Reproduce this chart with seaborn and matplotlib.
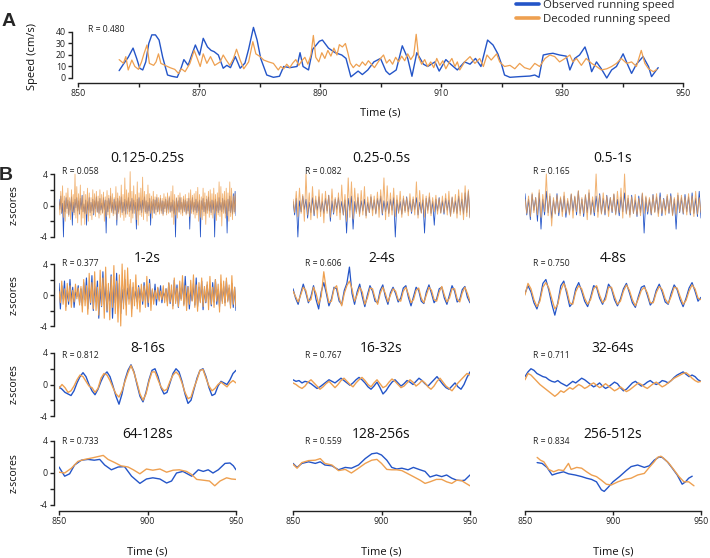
import numpy as np
import matplotlib
matplotlib.use("Agg")
import matplotlib.pyplot as plt
from matplotlib.lines import Line2D
import seaborn as sns

sns.set_theme(style="ticks")
plt.rcParams['font.family'] = ['Open Sans', 'DejaVu Sans']

BLUE = "#2455c8"
ORANGE = "#eea050"

# ---------------- Panel A data ----------------
A_obs_t = [856.8, 857.5, 858.3, 859.1, 859.7, 860.2, 860.7, 861.2, 861.7, 862.2, 862.8, 863.4, 864.0, 864.8,
           865.5, 866.4, 867.0, 867.5, 868.2, 868.8, 869.4, 870.1, 870.7, 871.4, 872.0, 872.5, 873.2, 874.0,
           874.6, 875.2, 876.0, 876.8, 877.6, 878.2, 879.0, 879.6, 880.2, 881.2, 882.3, 883.3, 884.0, 885.0,
           886.2, 886.7, 887.2, 888.1, 888.8, 889.9, 890.4, 891.4, 892.5, 893.6, 894.3, 895.1, 896.3, 897.0,
           897.9, 898.9, 900.0, 900.9, 901.5, 902.6, 903.6, 904.5, 905.2, 906.0, 907.1, 907.8, 909.0, 909.7,
           910.8, 911.6, 912.7, 913.9, 914.8, 915.7, 916.6, 917.7, 918.6, 919.4, 920.0, 920.5, 921.4, 923.0,
           924.7, 925.5, 926.2, 926.9, 927.7, 928.5, 929.6, 930.7, 931.3, 932.1, 932.9, 933.8, 934.3, 934.9,
           935.7, 936.5, 937.4, 938.2, 939.0, 940.1, 940.9, 941.5, 942.3, 943.4, 944.3, 944.8, 945.4, 945.9]
A_obs_v = [6.4, 12, 18, 26, 17, 8.5, 7, 14, 30, 37.5, 37.5, 33, 18, 2.6,
           1.5, 0.6, 8, 16, 11, 20, 28.7, 20, 34.5, 27, 24, 22.9, 20, 8.5,
           11, 9, 18.6, 8.5, 13, 25, 44, 33, 17, 2.6, 0.6, 1.5, 10, 9,
           10, 22, 10, 7, 25, 32, 33, 26, 22, 20, 17, 1, 6, 3,
           7, 14, 17, 6, 3, 7, 28, 17, 1.5, 22, 12, 10, 14, 6,
           16, 12, 7, 14, 12, 17, 10, 33, 28.7, 21, 12, 2.6, 0.6, 1.2,
           1.7, 2.6, 0.6, 20, 20.9, 21.5, 20, 19, 7, 17, 20, 27, 19, 5.5,
           14, 8, 0, 7, 10, 21, 11, 4, 12, 18.6, 10, 1.2, 5.5, 9]

A_dec_t = [856.8, 857.5, 857.9, 858.3, 858.9, 859.4, 860.0, 860.5, 860.9, 861.4, 861.8, 862.5, 862.9, 863.3,
           863.7, 864.4, 865.2, 866.0, 866.6, 867.1, 867.7, 868.5, 869.2, 869.6, 870.2, 870.7, 871.3, 871.9,
           872.6, 873.5, 874.0, 874.5, 875.1, 875.7, 876.2, 876.8, 877.4, 878.2, 878.9, 879.4, 880.1, 880.7,
           881.5, 882.3, 883.1, 883.5, 884.0, 884.5, 885.0, 885.5, 886.0, 886.5, 887.0, 887.5, 888.0, 888.5,
           888.9, 889.3, 889.8, 890.3, 890.8, 891.3, 891.8, 892.3, 892.8, 893.2, 893.7, 894.2, 894.6, 895.0,
           895.5, 896.0, 896.5, 897.0, 897.5, 898.0, 898.5, 899.0, 899.5, 900.0, 900.5, 901.0, 901.5, 902.0,
           902.5, 903.0, 903.5, 904.0, 904.5, 905.0, 905.5, 905.9, 906.3, 906.8, 907.3, 907.8, 908.3, 908.8,
           909.3, 909.8, 910.3, 910.8, 911.3, 911.8, 912.3, 912.7, 913.1, 913.9, 914.8, 915.6, 916.4, 917.0,
           917.6, 918.3, 919.2, 919.7, 920.5, 921.4, 922.2, 923.0, 923.8, 924.7, 925.5, 926.3, 927.2, 928.0,
           928.8, 929.6, 930.5, 931.3, 931.8, 932.4, 933.2, 934.0, 934.9, 935.7, 936.5, 937.4, 938.2, 939.0,
           939.8, 940.7, 941.5, 942.3, 943.1, 943.7, 944.3, 945.1, 945.7]
A_dec_v = [16, 12.8, 18.6, 7, 15.6, 10, 7.5, 14, 21, 28.7, 12.7, 11, 14, 21,
           12.7, 11, 9, 7.5, 4, 8, 5.5, 12.7, 24, 18.6, 10, 21, 12.7, 18.6,
           11, 14, 20, 15.6, 11, 17, 25, 15.6, 8, 14, 31.6, 21, 18.6, 15.6,
           14, 12.7, 7, 10, 8, 12, 9, 13, 16, 11, 15, 18, 12, 20,
           37, 18, 14, 22, 17, 24, 19, 26, 20, 29, 27, 30, 22, 13,
           9, 12, 10, 14, 11, 15, 12, 9, 13, 17, 20, 13, 16, 12,
           18, 14, 19, 15, 21, 16, 20, 38, 18, 12, 16, 10, 14, 9,
           17, 11, 15, 8, 13, 17, 10, 14, 7, 14, 18.6, 12.7, 17, 10,
           20, 15.6, 21, 14, 10, 11, 8, 12.7, 9, 7.5, 12.7, 10, 17, 20,
           18.6, 14, 17, 20, 14, 17, 11, 17, 12.7, 10, 7, 8, 10, 12.7,
           17, 12.7, 14, 10, 24, 12.7, 8, 5.5, 7.5]
A_R = "R = 0.480"

# ---------------- Panel B data ----------------
titles = [["0.125-0.25s", "0.25-0.5s", "0.5-1s"],
          ["1-2s", "2-4s", "4-8s"],
          ["8-16s", "16-32s", "32-64s"],
          ["64-128s", "128-256s", "256-512s"]]
r_labels = [["R = 0.058", "R = 0.082", "R = 0.165"],
            ["R = 0.377", "R = 0.606", "R = 0.750"],
            ["R = 0.812", "R = 0.767", "R = 0.711"],
            ["R = 0.733", "R = 0.559", "R = 0.834"]]

b11 = [0.8,-0.5,1.2,-1.0,0.3,-4.0,0.6,-0.8,1.0,-0.4, 0.7,-1.2,0.5,-0.6,1.1,-2.5,0.4,-0.9,0.8,-0.3,
       1.0,-0.7,0.6,-1.1,0.9,-0.5,1.3,-0.8,0.2,-1.0, 0.7,-2.5,0.5,-0.6,1.0,-0.9,0.4,-0.7,0.8,-1.2,
       0.6,-0.4,1.1,-0.8,0.5,-1.0,0.9,-0.6,0.3,-0.9, 1.0,-0.5,0.7,-3.5,0.6,-0.8,0.9,-0.4,1.2,-0.7,
       0.4,-1.0,0.8,-0.6,0.5,-2.5,0.9,-0.8,0.6,-0.5, 1.1,-0.9,0.4,-0.7,0.8,-1.1,0.6,-0.4,1.0,-0.8,
       0.5,-0.6,0.9,-1.0,0.7,-0.5,0.4,-3.0,0.8,-0.7, 1.0,-0.6,0.5,-0.9,0.7,-0.4,1.1,-0.8,0.6,-1.0,
       0.4,-0.7,0.9,-2.5,0.5,-0.6,0.8,-1.0,0.7,-0.5, 1.0,-0.8,0.4,-0.6,0.9,-0.7,0.6,-1.1,0.5,-0.4,
       0.8,-0.9,0.6,-0.5,1.0,-0.8,0.4,-0.7,0.7,-1.0, 0.5,-4.0,0.9,-0.6,0.6,-0.8,1.0,-0.5,0.4,-0.9,
       0.8,-0.6,0.7,-1.0,0.5,-0.7,0.9,-3.0,0.6,-0.5, 1.0,-0.8,0.4,-0.6,0.8,-0.9,0.5,-0.7,0.7,-4.0,
       0.6,-0.5,0.9,-0.8,0.4,-1.0,0.8,-0.6,1.1,-0.7, 0.5,-0.9,0.7,-0.5,0.6,-4.0,0.8,-0.7,0.5,-0.9,
       1.0,-0.6,0.4,-0.8,0.9,-0.5,0.7,-1.0,0.6,-3.5, 0.8,-0.7,1.2,-0.9,0.6,-1.1,1.5,-0.8,1.8,-1.3]
o11 = [0.5,-1.2,1.8,-0.9,2.5,-1.5,1.2,-2.0,1.6,-1.0, 2.2,-1.4,1.0,-1.8,2.0,-0.8,1.4,-1.2,4.0,-1.6,
       2.4,-2.2,1.5,-1.0,2.6,-2.5,1.2,-1.6,1.8,-2.4, 1.4,-1.1,2.2,-2.0,1.6,-1.3,1.0,-1.8,2.0,-1.0,
       1.5,-1.4,1.8,-0.9,1.2,-1.6,2.0,-1.2,1.4,-1.0, 1.7,-2.0,1.1,-1.4,1.9,-1.2,1.3,-1.6,2.2,-0.9,
       1.5,-1.3,1.0,-1.1,2.4,-1.8,1.6,-1.0,1.2,-1.5, 2.6,-1.2,1.4,-1.9,3.5,-1.5,2.0,-1.1,1.6,-1.4,
       4.3,-2.2,1.8,-1.6,2.5,-1.0,1.4,-1.8,3.0,-2.5, 1.6,-1.2,2.2,-1.4,3.6,-1.8,1.8,-1.0,1.4,-2.0,
       2.6,-1.3,1.5,-1.0,1.2,-1.6,1.8,-0.9,1.1,-1.2, 1.4,-0.8,1.0,-1.1,1.3,-1.0,0.9,-1.3,1.5,-0.8,
       1.1,-1.2,1.6,-1.0,1.2,-0.9,1.8,-1.5,2.5,-2.4, 1.4,-1.2,1.0,-1.6,1.3,-0.9,1.6,-1.1,1.0,-1.3,
       1.2,-0.8,1.4,-1.2,0.9,-1.0,1.6,-1.4,2.0,-1.0, 1.3,-1.1,1.5,-1.6,1.8,-1.2,2.3,-2.0,1.4,-1.5,
       1.1,-1.8,2.2,-1.3,1.6,-2.4,1.2,-1.0,1.8,-1.5, 2.0,-1.2,1.5,-1.6,2.2,-1.0,1.4,-1.9,1.6,-1.2,
       3.0,-1.4,2.4,-2.6,1.5,-1.0,1.8,-1.6,2.2,-1.3, 1.6,-2.0,3.0,-1.4,2.2,-1.8,1.2,-1.0,1.5,-0.8]

b12 = [0.5,-1.2,0.9,-4.0,0.6,-0.8,1.2,-0.5,0.8,-1.6, 0.4,-0.9,1.0,-1.3,0.7,-0.6,1.1,-0.8,0.5,-1.0,
       0.9,-0.7,1.3,-2.0,0.6,-1.1,0.8,-0.5,1.0,-0.9, 0.5,-1.2,0.7,-3.5,0.9,-0.6,1.2,-3.0,0.5,-0.8,
       1.0,-1.1,0.6,-0.7,0.8,-1.3,0.4,-0.9,1.1,-0.6, 0.7,-1.0,0.9,-0.5,1.2,-1.2,0.6,-0.8,0.5,-1.0,
       0.8,-0.6,1.0,-4.0,0.7,-0.9,0.5,-1.1,0.9,-0.7, 1.1,-0.8,0.6,-1.0,0.8,-0.5,1.0,-1.2,0.4,-0.9,
       0.7,-3.5,0.9,-0.6,1.1,-1.0,0.5,-2.5,0.8,-0.7, 1.0,-0.9,0.6,-1.1,0.9,-0.6,0.7,-1.3,1.0,-0.8,
       0.6,-1.0,1.2,-0.7,0.8,-1.1,1.6,-0.9,1.8,-1.5]
o12 = [0.8,-0.9,1.8,-1.4,2.2,-1.0,1.4,-2.0,4.0,-1.2, 1.6,-1.8,2.4,-1.1,1.2,-1.6,2.0,-1.4,1.5,-2.2,
       1.8,-1.0,1.3,-1.5,2.1,-0.9,1.0,-1.3,1.6,-1.8, 2.6,-1.2,1.4,-2.0,3.5,-1.5,3.0,-1.7,2.2,-1.0,
       1.5,-1.4,1.9,-1.2,2.4,-1.6,1.1,-0.9,1.4,-1.3, 1.2,-1.1,1.7,-1.5,2.0,-1.0,3.5,-1.8,2.5,-1.4,
       1.6,-1.2,2.2,-1.4,1.3,-1.0,1.8,-1.5,1.2,-0.9, 1.0,-1.3,1.5,-0.8,1.1,-1.2,3.0,-1.6,1.9,-1.0,
       1.4,-1.5,1.2,-1.0,1.6,-1.3,1.0,-0.8,1.3,-1.1, 0.9,-1.0,1.2,-0.9,1.5,-1.2,1.8,-1.4,1.1,-1.0,
       1.4,-1.6,2.0,-1.2,1.6,-1.8,2.5,-1.4,2.0,-1.6]

b13 = [1.5,-1.2,0.8,-1.8,1.4,-0.6,1.0,-2.0,1.6,-3.0, 0.8,-1.2,1.8,-0.9,1.2,-1.6,0.7,-1.0,1.5,-1.3,
       0.9,-0.8,1.2,-1.5,0.6,-1.0,1.4,-0.7,1.1,-1.2, 1.8,-1.0,0.8,-1.4,1.3,-0.9,1.6,-1.1,0.7,-1.3,
       1.2,-0.8,1.5,-1.0,0.9,-1.2,1.3,-0.7,1.0,-0.9, 1.4,-1.1,0.8,-1.3,1.1,-0.8,1.6,-1.0,0.9,-1.2,
       1.3,-1.0,0.7,-1.4,1.2,-0.9,1.5,-3.5,1.0,-1.1, 0.8,-1.2,1.4,-0.8,1.1,-1.0,1.6,-1.3,0.9,-0.7,
       1.2,-1.0,1.5,-1.2,0.8,-3.0,1.3,-0.9,1.0,-1.1, 1.4,-0.8,1.1,-1.2,1.6,-1.0,0.9,-1.4,1.8,-1.6]
o13 = [0.8,-1.0,1.2,-1.4,1.6,-0.9,1.0,-1.2,2.0,-1.5, 1.4,-0.8,4.0,-1.3,1.5,-2.6,1.0,-1.1,1.3,-0.9,
       1.1,-1.4,1.7,-1.0,0.9,-1.2,1.5,-1.6,1.2,-0.8, 1.9,-1.3,1.0,-1.0,1.4,-1.8,2.0,-1.2,1.1,-0.9,
       4.0,-1.5,1.3,-1.1,1.6,-1.0,1.2,-1.4,1.0,-0.8, 1.5,-1.2,1.8,-0.9,2.2,-1.6,4.0,-1.1,1.3,-1.5,
       1.1,-1.0,1.4,-1.2,0.9,-1.3,1.6,-1.0,1.2,-0.8, 1.0,-1.1,1.3,-0.9,1.5,-1.4,1.1,-1.0,0.8,-1.2,
       1.4,-0.9,1.2,-1.3,1.0,-1.1,1.6,-0.8,1.3,-1.0, 1.1,-1.2,1.5,-1.0,1.2,-1.4,1.8,-1.1,1.0,-0.9]

b21 = [1.5,-1.8,1.2,-0.5,1.8,-1.5,0.6,-1.2,2.0,-0.8, 1.0,-1.6,0.4,-0.2,1.2,-1.0,0.8,-1.4,1.6,-0.6,
       2.2,-1.8,0.9,-1.2,2.5,-2.0,1.1,-0.9,1.8,-3.0, 0.8,-1.5,3.0,-1.2,1.4,-2.2,0.6,-0.8,2.6,-3.0,
       1.2,-1.0,2.8,-1.6,1.5,-2.4,0.7,-1.1,2.0,-1.3, 0.9,-0.5,1.4,-1.8,1.0,-0.6,0.5,-0.9,1.2,-0.4,
       0.8,-1.2,1.6,-0.7,1.1,-1.5,2.0,-1.0,0.6,-0.8, 1.4,-1.3,0.9,-0.6,1.2,-1.0,0.4,-0.3,0.8,-0.9,
       1.5,-1.1,0.7,-1.4,1.9,-0.8,1.3,-1.6,0.9,-0.5, 1.7,-1.2,2.4,-1.0,1.1,-1.8,0.6,-0.7,1.5,-1.3,
       2.2,-1.5,1.0,-0.8,1.8,-1.9,0.8,-1.0,1.3,-0.6, 0.9,-1.4,1.6,-0.9,2.0,-1.2,0.7,-1.5,1.4,-0.8,
       1.1,-1.0,1.8,-0.7,0.9,-1.3,1.5,-1.6,1.0,-2.0]
o21 = [0.5,-1.0,1.8,-1.2,0.8,-2.0,1.5,-0.8,1.2,-1.6, 0.6,-0.9,1.4,-0.5,0.9,-1.3,1.1,-2.2,2.0,-1.4,
       1.2,-2.5,2.8,-1.0,1.6,-1.8,3.0,-2.0,1.0,-2.6, 3.2,-1.4,2.2,-3.0,3.6,-2.0,1.5,-3.2,2.4,-1.6,
       3.8,-2.4,1.8,-3.5,2.6,-4.0,4.0,-1.8,3.2,-2.6, 3.5,-1.2,2.0,-2.8,1.6,-1.4,2.6,-1.8,1.0,-2.2,
       1.4,-0.8,1.2,-1.6,2.4,-1.0,1.5,-2.0,0.8,-1.2, 0.6,-0.5,1.0,-0.8,0.5,-0.6,1.2,-1.0,0.8,-1.4,
       1.6,-0.9,1.3,-1.8,2.2,-1.1,0.9,-1.5,1.8,-0.7, 2.5,-1.4,1.2,-2.0,1.0,-1.2,1.9,-0.8,2.6,-1.6,
       1.3,-2.1,1.6,-1.0,2.2,-1.5,1.1,-0.9,1.7,-1.9, 2.4,-1.2,1.0,-1.6,2.0,-0.8,1.4,-2.2,2.6,-1.1,
       1.8,-1.4,2.2,-0.9,1.3,-1.7,2.5,-1.2,1.0,-1.5]

b22 = [0.8,-0.4,-1.2,0.2,1.4,0.3,-1.0,-0.2,1.2,-0.6, -1.8,0.4,1.6,0.2,-1.4,-0.5,1.0,0.8,-0.8,-1.2,
       0.6,1.5,3.6,0.2,-1.2,0.4,1.4,-0.2,-1.5,0.0, 1.2,0.5,-0.8,-1.0,0.6,1.3,-0.2,-1.2,0.3,1.0,
       0.2,-0.9,-0.4,0.9,1.2,-0.3,-1.4,-0.2,1.0,0.6, -0.8,-1.1,0.4,1.3,0.2,-1.0,-0.5,0.8,1.0,-0.4,
       -1.2,0.0,1.2,0.5,-0.9,-0.6,0.7,1.1,-0.3,-1.0]
o22 = [0.5,-0.2,-0.9,0.0,1.0,0.6,-0.8,-0.6,1.0,0.2, -1.2,-0.2,3.0,0.6,-1.0,-0.8,0.8,1.2,-0.4,-1.4,
       0.2,1.2,1.8,0.8,-0.8,0.0,1.0,0.4,-1.2,-0.4, 0.9,0.8,-0.4,-1.2,0.2,1.0,0.2,-0.9,0.0,0.8,
       0.5,-0.6,-0.8,0.5,1.0,0.1,-1.0,-0.6,0.6,0.9, -0.4,-1.0,0.0,1.0,0.6,-0.6,-0.8,0.4,1.1,0.0,
       -0.9,-0.4,0.8,0.8,-0.5,-0.9,0.3,1.0,0.2,-0.8]

b23 = [0.2,1.2,0.4,-1.0,-1.8,-0.5,1.5,2.0,0.6,-1.2, -2.6,-1.0,1.2,1.8,0.2,-1.5,-1.0,0.8,1.6,0.5,
       -0.8,-1.5,-0.3,1.2,1.0,-0.4,-1.2,-0.2,1.4,0.8, -0.6,-1.4,-0.5,0.8,1.5,0.3,-1.0,-1.6,-0.2,1.0,
       1.2,0.0,-1.3,-0.8,0.6,1.4,0.4,-0.9,-1.2,0.2, 1.3,0.7,-0.6,-1.5,-0.4,0.9,1.6,0.5,-0.8,-0.3]
o23 = [0.0,1.5,0.8,-0.6,-1.5,-0.8,1.0,1.6,0.9,-0.5, -1.8,-1.2,0.6,1.5,0.6,-1.0,-1.2,0.4,1.2,0.8,
       -0.4,-1.2,-0.6,0.8,1.2,0.0,-1.0,-0.6,1.0,1.0, -0.2,-1.2,-0.8,0.5,1.3,0.6,-0.6,-1.4,-0.5,0.6,
       1.0,0.3,-1.0,-1.0,0.3,1.1,0.7,-0.5,-1.1,-0.2, 1.0,0.9,-0.2,-1.2,-0.7,0.5,1.3,0.8,-0.4,-0.6]

b31 = [-0.3,-0.6,-1.0,-1.2,-1.4,-0.8,0.2,1.0,1.5,1.0, 0.0,-0.8,-1.3,-0.6,0.4,1.2,1.6,1.0,-0.2,-1.5,
       -2.5,-1.2,0.6,1.8,2.5,1.6,0.0,-1.5,-2.2,-1.0, 0.6,1.8,2.0,1.0,-0.4,-1.2,-1.0,0.2,1.4,2.0,
       1.6,0.4,-1.2,-2.4,-2.0,-0.6,0.8,1.8,2.0,1.0, -0.4,-1.4,-1.2,-0.2,0.4,0.2,0.0,0.6,1.4,1.8]
o31 = [-0.5,0.0,-0.4,-1.0,-0.8,-0.2,0.6,1.2,1.0,0.4, -0.2,-0.4,-1.0,-0.5,0.8,1.4,1.2,0.5,-0.4,-1.2,
       -1.6,-0.8,0.4,1.5,2.4,1.5,0.2,-1.2,-2.0,-1.2, 0.4,1.6,1.6,0.6,-0.3,-0.8,-0.6,0.4,1.2,1.6,
       1.2,0.2,-1.0,-1.8,-1.6,-0.4,0.6,1.8,1.9,0.8, -0.2,-0.8,-0.5,0.0,0.3,0.0,-0.3,0.2,0.5,0.2]

b32 = [0.6,0.4,0.5,0.2,0.4,0.3,0.1,-0.2,-0.5,-0.3, 0.0,0.3,0.6,0.4,0.2,0.5,0.8,0.5,0.2,-0.1,
       0.2,0.6,0.9,0.6,0.2,-0.3,-0.6,-0.2,0.3,-0.4, -1.2,-0.8,-0.2,0.3,0.6,0.2,-0.2,0.1,0.5,0.3,
       0.0,0.4,0.8,0.5,0.1,-0.2,0.2,0.6,1.0,0.5, 0.0,-0.4,-0.6,-0.2,0.2,-0.3,-0.6,0.0,0.9,1.6]
o32 = [0.2,0.0,-0.3,-0.5,-0.2,0.3,0.6,0.2,-0.2,-0.6, -0.3,0.1,0.4,0.0,-0.4,0.0,0.5,0.8,0.4,0.0,
       -0.3,0.2,0.6,0.9,0.5,0.0,-0.3,0.2,0.6,0.1, -0.4,-0.2,0.3,0.7,0.4,0.0,-0.4,-0.2,0.2,0.6,
       0.3,-0.2,0.1,0.5,0.2,-0.3,-0.6,-0.2,0.4,0.8, 0.3,-0.2,-0.5,-0.8,-0.3,0.2,0.6,1.0,1.4,1.2]

b33 = [1.0,1.6,2.0,1.8,1.4,1.2,1.0,0.9,0.6,0.4, 0.3,0.5,0.2,0.0,-0.2,0.1,0.4,0.2,0.5,0.8,
       0.6,0.3,0.0,-0.3,-0.1,0.2,-0.2,-0.5,-0.3,0.0, 0.3,0.1,-0.4,-0.8,-0.6,-0.2,0.2,0.4,0.1,-0.2,
       0.0,0.3,0.5,0.2,0.0,0.2,0.5,0.4,0.2,0.5, 0.9,1.2,1.4,1.6,1.3,1.0,1.2,1.0,0.6,0.4]
o33 = [0.6,1.4,1.2,0.8,0.4,0.0,-0.3,-0.6,-0.9,-1.2, -1.5,-1.2,-0.8,-1.0,-0.7,-0.4,-0.6,-0.3,0.0,-0.2,
       -0.5,-0.3,0.0,0.2,-0.1,-0.4,-0.2,0.1,-0.2,-0.5, -0.8,-0.6,-0.3,-0.6,-0.9,-0.7,-0.4,-0.1,0.2,0.0,
       -0.3,-0.5,-0.2,0.1,0.3,0.0,-0.3,-0.1,0.2,0.5, 0.8,1.0,1.2,1.4,1.5,1.2,0.8,0.5,0.3,0.4]

t41 = [850.0, 853.2, 856.0, 858.8, 862.6, 866.4, 869.9, 873.0, 875.8, 879.6, 883.4, 887.0, 891.0, 895.7,
       899.4, 903.0, 907.0, 910.8, 913.6, 916.4, 920.0, 925.0, 928.7, 931.5, 934.3, 937.0, 940.0, 943.8,
       946.6, 948.5, 950.0]
b41 = [0.75, -0.4, -0.1, 1.0, 1.6, 1.7, 1.6, 1.7, 1.0, 0.4, 0.75, 0.8, -0.4, -1.3,
       -0.75, -0.6, -0.75, -1.25, -1.0, 0.0, 0.2, -0.4, 0.4, 0.2, 0.4, 0.0, 0.4, 1.2,
       1.25, 0.9, 0.4]
to41 = [850.0, 853.2, 857.0, 860.7, 864.5, 869.0, 873.0, 875.0, 877.7, 881.5, 885.0, 889.0, 892.0, 895.7,
        899.4, 903.0, 907.0, 910.8, 914.5, 918.0, 922.0, 925.0, 927.8, 931.5, 935.0, 938.0, 941.0, 944.7,
        947.5, 950.0]
o41 = [0.1, 0.0, 0.6, 1.45, 1.7, 1.9, 2.1, 2.2, 1.7, 1.3, 0.9, 0.75, 0.4, -0.1,
       0.5, 0.35, 0.5, 0.1, 0.35, 0.4, 0.2, -0.2, -0.8, -0.9, -1.0, -1.6, -1.0, -0.6,
       -0.75, -0.8]

t42 = [850.0, 852.3, 855.0, 858.8, 862.6, 865.4, 868.0, 872.0, 875.7, 879.5, 883.0, 887.0, 890.8, 894.5,
       897.4, 900.0, 903.0, 905.8, 908.6, 911.5, 915.0, 918.0, 921.8, 924.6, 927.4, 931.0, 934.0, 936.8,
       939.7, 942.5, 945.3, 947.0, 950.0]
b42 = [1.2, 0.7, 1.2, 1.4, 1.2, 1.4, 1.0, 0.9, 0.4, 0.7, 0.6, 1.0, 1.8, 2.4,
       2.5, 2.25, 1.6, 0.7, 0.5, 0.6, 0.4, 0.7, 0.4, 0.2, -0.5, -0.25, -0.45, -0.25,
       -0.65, -0.9, -0.95, -0.9, -0.25]
o42 = [1.1, 0.6, 1.3, 1.55, 1.6, 1.8, 1.2, 1.0, 0.3, 0.45, 0.0, 0.6, 1.2, 1.6,
       1.7, 1.2, 0.45, 0.4, 0.4, 0.3, -0.1, -0.45, -0.9, -1.3, -1.1, -0.8, -0.8, -1.1,
       -1.3, -0.9, -0.95, -1.2, -1.6]

t43 = [856.9, 859.7, 862.5, 865.4, 868.2, 871.9, 874.7, 878.5, 882.2, 885.0, 887.8, 890.6, 893.4, 895.0,
       897.2, 900.0, 903.7, 907.5, 910.3, 914.0, 917.8, 920.6, 923.4, 926.2, 928.0, 930.9, 933.7, 936.5,
       939.3, 941.2, 943.0, 945.0]
b43 = [1.3, 1.2, 0.7, -0.25, -0.05, 0.15, -0.1, -0.25, -0.45, -0.65, -0.8, -1.1, -2.1, -2.3,
       -1.8, -1.1, -0.45, 0.3, 0.8, 1.0, 0.7, 0.9, 1.6, 2.0, 1.95, 1.4, 0.6, -0.25,
       -1.4, -1.1, -0.65, -0.4]
to43 = [856.9, 858.8, 860.7, 863.5, 866.3, 869.1, 871.9, 874.7, 876.2, 879.4, 882.2, 885.0, 887.8, 890.6,
        893.4, 896.2, 899.0, 902.8, 906.6, 910.3, 914.0, 917.8, 920.6, 923.4, 925.3, 927.2, 929.0, 931.8,
        934.6, 937.5, 940.3, 943.0, 946.0]
o43 = [1.95, 1.6, 1.4, 0.45, 0.15, 0.4, 0.3, 1.2, 0.45, 0.7, 0.6, 0.15, -0.25, -0.45,
       -0.9, -1.4, -1.5, -1.1, -0.8, -0.65, -0.25, -0.05, 0.7, 1.4, 1.95, 2.1, 1.8, 1.2,
       0.4, -0.45, -1.1, -1.1, -1.6]

# ---------------- figure ----------------
W, H = 710, 558
fig = plt.figure(figsize=(W / 100, H / 100), dpi=100)


def make_axes(x_lo, x_hi, y_top, y_bot, v_top, v_bot, xlim, ylim):
    ppy = (y_bot - y_top) / (v_top - v_bot)
    top_px = y_top - (ylim[1] - v_top) * ppy
    bot_px = y_bot + (v_bot - ylim[0]) * ppy
    ax = fig.add_axes([x_lo / W, 1 - bot_px / H, (x_hi - x_lo) / W, (bot_px - top_px) / H])
    ax.set_xlim(*xlim)
    ax.set_ylim(*ylim)
    ax.set_facecolor("none")
    return ax


def ftext(x, y, s, **kw):
    fig.text(x / W, 1 - y / H, s, **kw)


SPINE = "#222222"
TICKFS = 6.3


def style_common(ax):
    for s in ["top", "right"]:
        ax.spines[s].set_visible(False)
    for s in ["left", "bottom"]:
        ax.spines[s].set_color(SPINE)
        ax.spines[s].set_linewidth(1.0)
    ax.tick_params(axis="both", length=2.8, width=1.0, color=SPINE, labelsize=TICKFS, pad=1.5,
                   labelcolor="#222222")


def draw(ax, t, v, color, lw, alpha=1.0):
    sns.lineplot(x=t, y=v, ax=ax, color=color, linewidth=lw, alpha=alpha, errorbar=None,
                 legend=False, sort=False)


# Panel A
axA = make_axes(78, 683, 32, 78, 40, 0, (850, 950), (-4.35, 47))
style_common(axA)
draw(axA, A_obs_t, A_obs_v, BLUE, 1.0)
draw(axA, A_dec_t, A_dec_v, ORANGE, 0.9)
axA.spines["left"].set_position(("outward", 4.3))
axA.spines["left"].set_bounds(0, 40)
axA.spines["bottom"].set_bounds(850, 950)
axA.set_yticks([0, 10, 20, 30, 40])
axA.set_xticks(list(range(850, 951, 10)))
axA.set_xticklabels([str(v) if (v - 850) % 20 == 0 else "" for v in range(850, 951, 10)])
axA.set_xlabel("")
axA.set_ylabel("")
ftext(88, 29, A_R, fontsize=6.2, ha="left", va="center", color="#222222")
ftext(380, 113, "Time (s)", fontsize=8, ha="center", va="center", color="#111111")
ftext(33, 57, "Speed (cm/s)", fontsize=8, ha="center", va="center", rotation=90, color="#111111")
ftext(9, 21, "A", fontsize=14, fontweight="bold", ha="center", va="center",
      family=["Liberation Sans", "DejaVu Sans"])
ftext(6, 175, "B", fontsize=14, fontweight="bold", ha="center", va="center",
      family=["Liberation Sans", "DejaVu Sans"])

# legend
handles = [Line2D([0], [0], color=BLUE, lw=2.6), Line2D([0], [0], color=ORANGE, lw=2.6)]
fig.legend(handles, ["Observed running speed", "Decoded running speed"], loc="upper left",
           bbox_to_anchor=(516 / W, 1 - 0 / H), frameon=False, fontsize=8.2, handlelength=2.0,
           handletextpad=0.4, labelspacing=0.25, borderpad=0.0, borderaxespad=0.0)

# Panel B
col_lo = [59, 293, 525]
col_hi = [236, 470, 701]
row_top = [174, 264, 353, 441]
row_bot = [237, 326, 416, 505]
title_y = [158, 259, 348, 435]
r_y = [172, 264, 355, 442]
r_x = [62, 305, 533]

series = [
    [(None, b11, None, o11, 0.55, 0.6), (None, b12, None, o12, 0.6, 0.7), (None, b13, None, o13, 0.6, 0.7)],
    [(None, b21, None, o21, 0.8, 0.8), (None, b22, None, o22, 0.9, 0.9), (None, b23, None, o23, 0.9, 0.9)],
    [(None, b31, None, o31, 1.0, 1.0), (None, b32, None, o32, 1.0, 1.0), (None, b33, None, o33, 1.0, 1.0)],
    [(t41, b41, to41, o41, 1.0, 1.0), (t42, b42, t42, o42, 1.0, 1.0), (t43, b43, to43, o43, 1.0, 1.0)],
]

for r in range(4):
    for c in range(3):
        ax = make_axes(col_lo[c], col_hi[c], row_top[r], row_bot[r], 4, -4, (850, 950), (-4.75, 4.75))
        style_common(ax)
        tb, vb, to, vo, lwb, lwo = series[r][c]
        if tb is None:
            tb = np.linspace(850, 950, len(vb))
        if to is None:
            to = np.linspace(850, 950, len(vo))
        draw(ax, tb, vb, BLUE, lwb)
        draw(ax, to, vo, ORANGE, lwo, alpha=0.8 if r == 0 else 1.0)
        ax.set_xlabel("")
        ax.set_ylabel("")
        if c == 0:
            ax.spines["left"].set_position(("outward", 3.6))
            ax.spines["left"].set_bounds(-4, 4)
            ax.set_yticks([-4, -2, 0, 2, 4])
            ax.set_yticklabels(["-4", "", "0", "", "4"])
            ftext(14, (row_top[r] + row_bot[r]) / 2, "z-scores", fontsize=7.6, rotation=90,
                  ha="center", va="center", color="#111111")
        else:
            ax.spines["left"].set_visible(False)
            ax.set_yticks([])
        if r == 3:
            ax.spines["bottom"].set_bounds(850, 950)
            ax.set_xticks([850, 900, 950])
            ax.set_xticklabels(["850", "900", "950"])
            ftext((col_lo[c] + col_hi[c]) / 2, 552, "Time (s)", fontsize=8, ha="center",
                  va="center", color="#111111")
        else:
            ax.spines["bottom"].set_visible(False)
            ax.set_xticks([])
        ftext((col_lo[c] + col_hi[c]) / 2, title_y[r], titles[r][c], fontsize=10, ha="center",
              va="center", color="#111111")
        ftext(r_x[c], r_y[r], r_labels[r][c], fontsize=6.2, ha="left", va="center",
              color="#222222")

fig.savefig("out.png", dpi=100, facecolor="white")
